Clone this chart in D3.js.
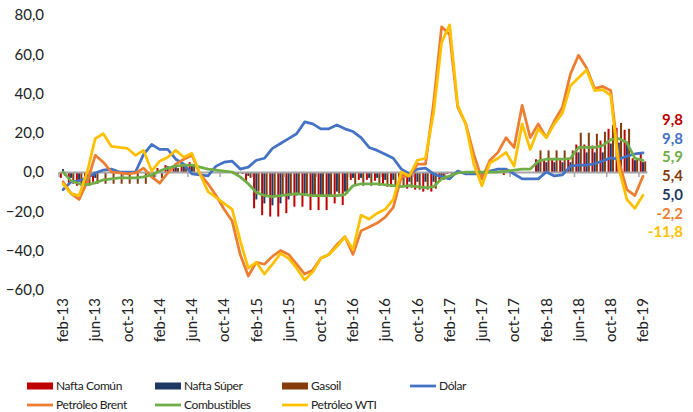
<!DOCTYPE html>
<html>
<head>
<meta charset="utf-8">
<script src="https://cdn.jsdelivr.net/npm/d3@7"></script>
<style>
  html, body { margin: 0; padding: 0; background: #fff; }
  svg { display: block; font-family: Lato, "Open Sans", sans-serif; }
</style>
</head>
<body>
<svg id="chart" width="693" height="412"></svg>
<script>
const months = ["feb-13","mar-13","abr-13","may-13","jun-13","jul-13","ago-13","sep-13","oct-13","nov-13","dic-13","ene-14",
"feb-14","mar-14","abr-14","may-14","jun-14","jul-14","ago-14","sep-14","oct-14","nov-14","dic-14","ene-15",
"feb-15","mar-15","abr-15","may-15","jun-15","jul-15","ago-15","sep-15","oct-15","nov-15","dic-15","ene-16",
"feb-16","mar-16","abr-16","may-16","jun-16","jul-16","ago-16","sep-16","oct-16","nov-16","dic-16","ene-17",
"feb-17","mar-17","abr-17","may-17","jun-17","jul-17","ago-17","sep-17","oct-17","nov-17","dic-17","ene-18",
"feb-18","mar-18","abr-18","may-18","jun-18","jul-18","ago-18","sep-18","oct-18","nov-18","dic-18","ene-19","feb-19"];

const tickLabels = ["feb-13","jun-13","oct-13","feb-14","jun-14","oct-14","feb-15","jun-15","oct-15","feb-16",
"jun-16","oct-16","feb-17","jun-17","oct-17","feb-18","jun-18","oct-18","feb-19"];

const yTicks = [-60,-40,-20,0,20,40,60,80];

const naftaComun = [-3,-6,-7,-7,-5,0,0,0,0,0,0,0,
 2,3.5,3.5,4,5,0,0,0,0,0,-1,-5.6,
 -18.5,-22,-22.7,-22.7,-21,-17.7,-17.7,-19.4,-19.4,-19.4,-16,-16.8,
 -4,-4,-4,-4.5,-6.5,-7.5,-7.5,-8.5,-9,-10,-10,-5,
 -1,0,0,0,0,0,0,-1.5,0,0,0,6.5,
 6.5,6.5,6.5,6.5,14,14,13.5,16,22,22.5,21.5,7,9.8];

const naftaSuper = [1.5,-3,-4,-5,-3,0,0,0,0,0,0,0,
 1,3,3,3,4,0,0,0,0,0,0,-2,
 -14,-16,-17,-16,-14,-12,-12,-12,-12,-12,-10,-10,
 -3,-3,-3,-3,-4,-4,-4,-5,-5,-5,-5,-2,
 0,0,0,0,0,0,0,-0.5,0,0,0,5,
 5,5,5,5,10,10,10,10,14.5,15,14.5,6,5.0];

const gasoil = [-2,-6,-7,-7,-6,-6,-6,-6,-6,-6,-6,-4,
 -3,1,2,2,3,0,0,0,0,0,-1,-3,
 -10,-12,-12,-12,-12,-11,-11,-12,-12,-12,-11,-11,
 -7,-7,-7,-7,-7.5,-7.5,-7.5,-8,-9,-9,-8.5,-4,
 -1,-0.5,0,0,0,0,0,0,0,0,0,11,
 11,11,11,11,20,20,19.5,20.5,24,25,22,6.5,5.4];

const dolar = [-9,-5,-4.5,-3,-0.5,1,1.5,0,0,0,9,14,
 11.5,11.5,6.5,4,-1,-1.5,-2,3,5,5.5,1.5,2.5,
 6,7,12,14.5,17,19.5,25.5,24.5,22,22,24,22,
 20.6,17.5,12.5,11,9,7,1.5,-1,1.5,2,-1,-2.5,
 -3.5,0.5,-1,-1,-1,0.5,1.5,1.5,-1,-3.5,-3.5,-3.5,
 0,-2,-1.5,3,3.5,3.5,4.2,5.6,7.2,6.5,8,9.2,9.8];

const brent = [-5,-11,-14,-5,8.5,5,0,-0.5,-1,-0.5,2,-2.5,
 -5.7,-0.5,4,6.5,8.5,-1,-6,-12,-19,-25,-42,-53,
 -46,-47,-43,-40,-42,-47,-52,-50,-44,-42,-37,-33,
 -42,-30,-28,-26,-23,-18,-2.5,-2,4,4,35,74,
 70,33,24.5,9,-3.5,6,10,17.5,12.5,34,17.5,24.5,
 17.5,26,33,50,59.5,53,42.5,43.6,41.5,5.6,-9,-12,-2.2];

const combustibles = [0,-4.5,-6,-6.5,-5.5,-4,-3.5,-3,-3,-3,-2.5,-1.5,
 0.5,2,3,3.5,3.5,2.5,1.5,1,0.5,0,-2.5,-6,
 -10.5,-12,-12.5,-12,-11.5,-11,-11.5,-12,-12,-12,-12,-11.5,
 -7,-6,-6,-6,-6.5,-7,-7.5,-7,-7.5,-8,-7.5,-3.5,
 -2,-0.5,0,0,0,0,0,0.5,1,1.5,1.5,5.5,
 6.5,6.5,6.5,7,12.5,12.5,12.5,13.5,16.5,17,15,7,5.9];

const wti = [-6,-11,-12,0,17,19.5,13,12.5,12,8.5,11,0.5,
 5.5,7.5,11,7.5,9.5,-1,-10,-13,-16,-19,-35,-49,
 -46,-52,-47,-41.5,-44,-49,-55,-51,-44,-42,-38,-33,
 -39.5,-22,-24,-21,-19,-14,0,-2,6,7,30,66,
 75,34,24.5,4,-7,4.6,7,10,3,24.5,11.5,22,
 17.5,24.5,30,44,48,52,41.5,42,39,2,-14,-18.5,-11.8];

const barSeries = [
  {name: "Nafta Común", values: naftaComun, color: "#C00000"},
  {name: "Nafta Súper", values: naftaSuper, color: "#1F3864"},
  {name: "Gasoil", values: gasoil, color: "#843C0C"}
];
const lineSeries = [
  {name: "Dólar", values: dolar, color: "#4472C4"},
  {name: "Petróleo Brent", values: brent, color: "#ED7D31"},
  {name: "Combustibles", values: combustibles, color: "#70AD47"},
  {name: "Petróleo WTI", values: wti, color: "#FFC000"}
];
const endLabels = [
  {text: "9,8", color: "#C00000"},
  {text: "9,8", color: "#4472C4"},
  {text: "5,9", color: "#70AD47"},
  {text: "5,4", color: "#843C0C"},
  {text: "5,0", color: "#1F3864"},
  {text: "-2,2", color: "#ED7D31"},
  {text: "-11,8", color: "#FFC000"}
];
const legendOrder = [
  {name: "Nafta Común", type: "bar", color: "#C00000"},
  {name: "Nafta Súper", type: "bar", color: "#1F3864"},
  {name: "Gasoil", type: "bar", color: "#843C0C"},
  {name: "Dólar", type: "line", color: "#4472C4"},
  {name: "Petróleo Brent", type: "line", color: "#ED7D31"},
  {name: "Combustibles", type: "line", color: "#70AD47"},
  {name: "Petróleo WTI", type: "line", color: "#FFC000"}
];

const svg = d3.select("#chart");
const plot = {left: 59, right: 647, top: 15, bottom: 289.75};

const x = d3.scaleBand().domain(months).range([plot.left, plot.right]).padding(0);
const xc = m => x(m) + x.bandwidth() / 2;
const xi = d3.scaleBand().domain(barSeries.map(s => s.name))
  .range([0.8, x.bandwidth() - 0.8]).paddingInner(0.1);
const y = d3.scaleLinear().domain([-60, 80]).range([plot.bottom, plot.top]);

const loc = d3.formatLocale({decimal: ",", thousands: ".", grouping: [3], currency: ["$", ""]});
const fmt = loc.format(".1f");

// Y axis labels (no axis line)
const yAxis = d3.axisLeft(y).tickValues(yTicks).tickFormat(fmt).tickSize(0).tickPadding(0);
const gy = svg.append("g").attr("transform", "translate(44,0)").call(yAxis);
gy.select(".domain").remove();
gy.selectAll("text").attr("font-size", 15).attr("fill", "#222").attr("font-family", "Lato, sans-serif");

// Bars
barSeries.forEach(s => {
  svg.append("g").selectAll("rect").data(months).join("rect")
    .attr("x", (m) => x(m) + xi(s.name))
    .attr("width", xi.bandwidth())
    .attr("y", (m, i) => y(Math.max(0, s.values[i])))
    .attr("height", (m, i) => Math.abs(y(s.values[i]) - y(0)))
    .attr("fill", s.color);
});

// Category axis at zero
const xAxis = d3.axisBottom(x).tickValues([]).tickSize(0);
const gx = svg.append("g").attr("transform", `translate(0,${y(0)})`).call(xAxis);
gx.select(".domain").attr("stroke", "#A6A6A6").attr("stroke-width", 2);
svg.append("g").selectAll("line").data(tickLabels).join("line")
  .attr("x1", m => x(m)).attr("x2", m => x(m))
  .attr("y1", y(0)).attr("y2", y(0) + 5)
  .attr("stroke", "#A6A6A6").attr("stroke-width", 1.5);

// Lines
lineSeries.forEach(s => {
  const line = d3.line().x((d, i) => xc(months[i])).y(d => y(d));
  svg.append("path").datum(s.values)
    .attr("d", line)
    .attr("fill", "none")
    .attr("stroke", s.color)
    .attr("stroke-width", 2.75)
    .attr("stroke-linejoin", "round")
    .attr("stroke-linecap", "round");
});

// X tick labels (rotated, at bottom)
svg.append("g").selectAll("text").data(tickLabels).join("text")
  .attr("transform", m => `translate(${xc(m)},298) rotate(-90)`)
  .attr("text-anchor", "end")
  .attr("dy", "0.35em")
  .attr("font-size", 15)
  .attr("fill", "#222")
  .text(m => m);

// End labels
svg.append("g").selectAll("text").data(endLabels).join("text")
  .attr("x", 683)
  .attr("y", (d, i) => 125 + i * 18.7)
  .attr("text-anchor", "end")
  .attr("font-size", 15)
  .attr("font-weight", "bold")
  .attr("fill", d => d.color)
  .text(d => d.text);

// Legend
const legPos = [[27,386],[155,386],[282,386],[410,386],[27,405],[155,405],[282,405]];
const lg = svg.append("g").selectAll("g").data(legendOrder).join("g")
  .attr("transform", (d, i) => `translate(${legPos[i][0]},${legPos[i][1]})`);
lg.filter(d => d.type === "bar").append("rect")
  .attr("x", 0).attr("y", -3.5).attr("width", 26).attr("height", 7).attr("fill", d => d.color);
lg.filter(d => d.type === "line").append("line")
  .attr("x1", 0).attr("x2", 26).attr("y1", 0).attr("y2", 0)
  .attr("stroke", d => d.color).attr("stroke-width", 2.75);
lg.append("text")
  .attr("x", 29).attr("y", 0).attr("dy", "0.35em")
  .attr("font-size", 12).attr("letter-spacing", -0.4)
  .attr("fill", "#222")
  .text(d => d.name);
</script>
</body>
</html>
